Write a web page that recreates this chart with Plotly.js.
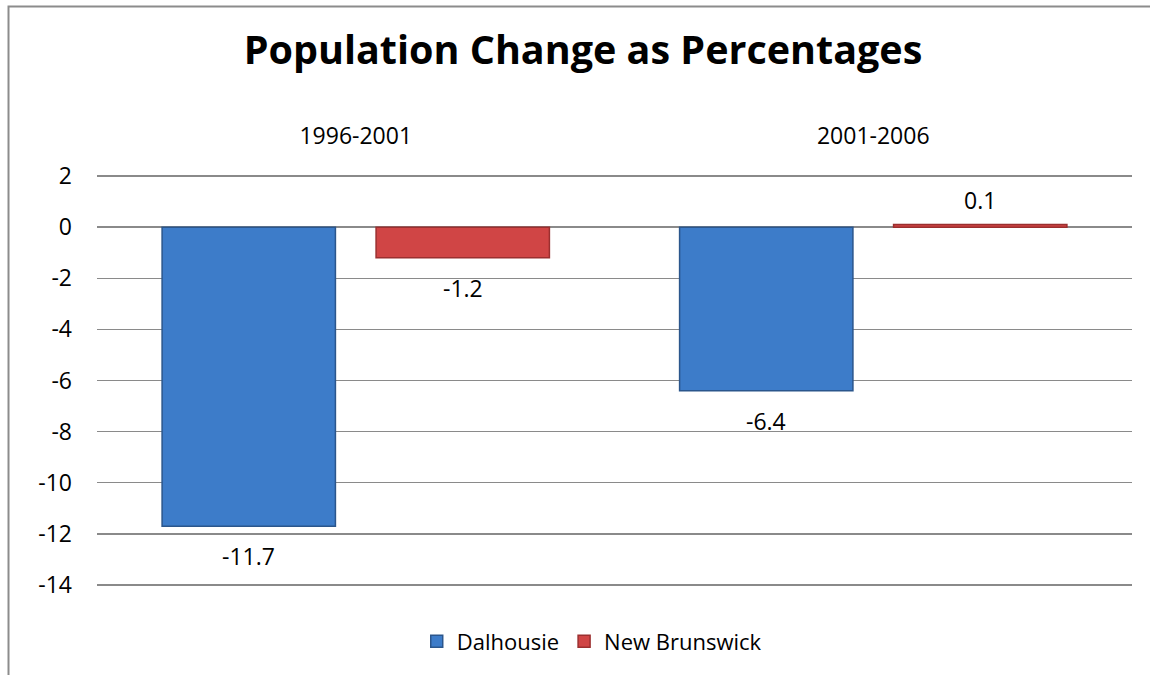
<!DOCTYPE html>
<html><head><meta charset="utf-8">
<script src="https://cdn.plot.ly/plotly-3.0.1.min.js"></script>
<style>html,body{margin:0;padding:0;background:#fff;}#chart{width:1150px;height:675px;}</style>
</head><body><div id="chart"></div>
<script>
const categories = ["1996-2001", "2001-2006"];
const dalhousie = [-11.7, -6.4];
const newBrunswick = [-1.2, 0.1];
const yTicks = [2, 0, -2, -4, -6, -8, -10, -12, -14];

const font = "'Open Sans', sans-serif";
const BAR_GAP = 0.173, GROUP_GAP = 0.19;
const plotW = 1150 - 97 - 18;
const slot = plotW / categories.length * (1 - BAR_GAP) / 2;

function labels(vals, side) {
  return vals.map((v, i) => ({
    x: categories[i], y: v, xref: 'x', yref: 'y', text: String(v), showarrow: false,
    xshift: side * slot / 2, yshift: v < 0 ? -30 : 25,
    font: {size: 23, color: '#000', family: font}
  }));
}

const traces = [
  {type:'bar', name:'Dalhousie', x:categories, y:dalhousie,
   marker:{color:'#3d7cc9', line:{color:'#2b568c', width:1.5}}},
  {type:'bar', name:'New Brunswick', x:categories, y:newBrunswick,
   marker:{color:'#d04545', line:{color:'#9b2f2f', width:1.5}}}
];
const layout = {
  width:1150, height:675,
  margin:{l:97, r:18, t:175, b:89},
  paper_bgcolor:'#fff', plot_bgcolor:'#fff',
  font:{family:font, color:'#000', size:22},
  title:{text:'<b>Population Change as Percentages</b>', font:{size:39.5, family:font, color:'#000'},
         x:0.507, xanchor:'center', y:0.925, yanchor:'middle'},
  barmode:'group', bargap:BAR_GAP, bargroupgap:GROUP_GAP,
  xaxis:{side:'top', type:'category', showgrid:false, zeroline:false, showline:false,
         ticks:'', ticklabelstandoff:25, tickfont:{size:23, family:font}},
  yaxis:{range:[-14.04,2.04], tickvals:yTicks, ticktext:yTicks.map(String), showgrid:true,
         gridcolor:'#8a8a8a', gridwidth:1.5, zeroline:true, zerolinecolor:'#8a8a8a', zerolinewidth:1.5,
         showline:false, ticks:'', ticklabelstandoff:24, tickfont:{size:23, family:font}},
  legend:{orientation:'h', x:0.478, xanchor:'center', y:-0.135, yanchor:'middle',
          font:{size:22, family:font}, traceorder:'normal'},
  showlegend:true,
  annotations: labels(dalhousie, -1).concat(labels(newBrunswick, 1)),
  shapes:[{type:'rect', xref:'paper', yref:'paper', x0:-0.0855, x1:1.3, y0:-1, y1:1.41,
           line:{color:'#8c8c8c', width:2}, fillcolor:'rgba(0,0,0,0)', layer:'above'}]
};
Plotly.newPlot('chart', traces, layout, {displayModeBar:false, staticPlot:true});
</script></body></html>
